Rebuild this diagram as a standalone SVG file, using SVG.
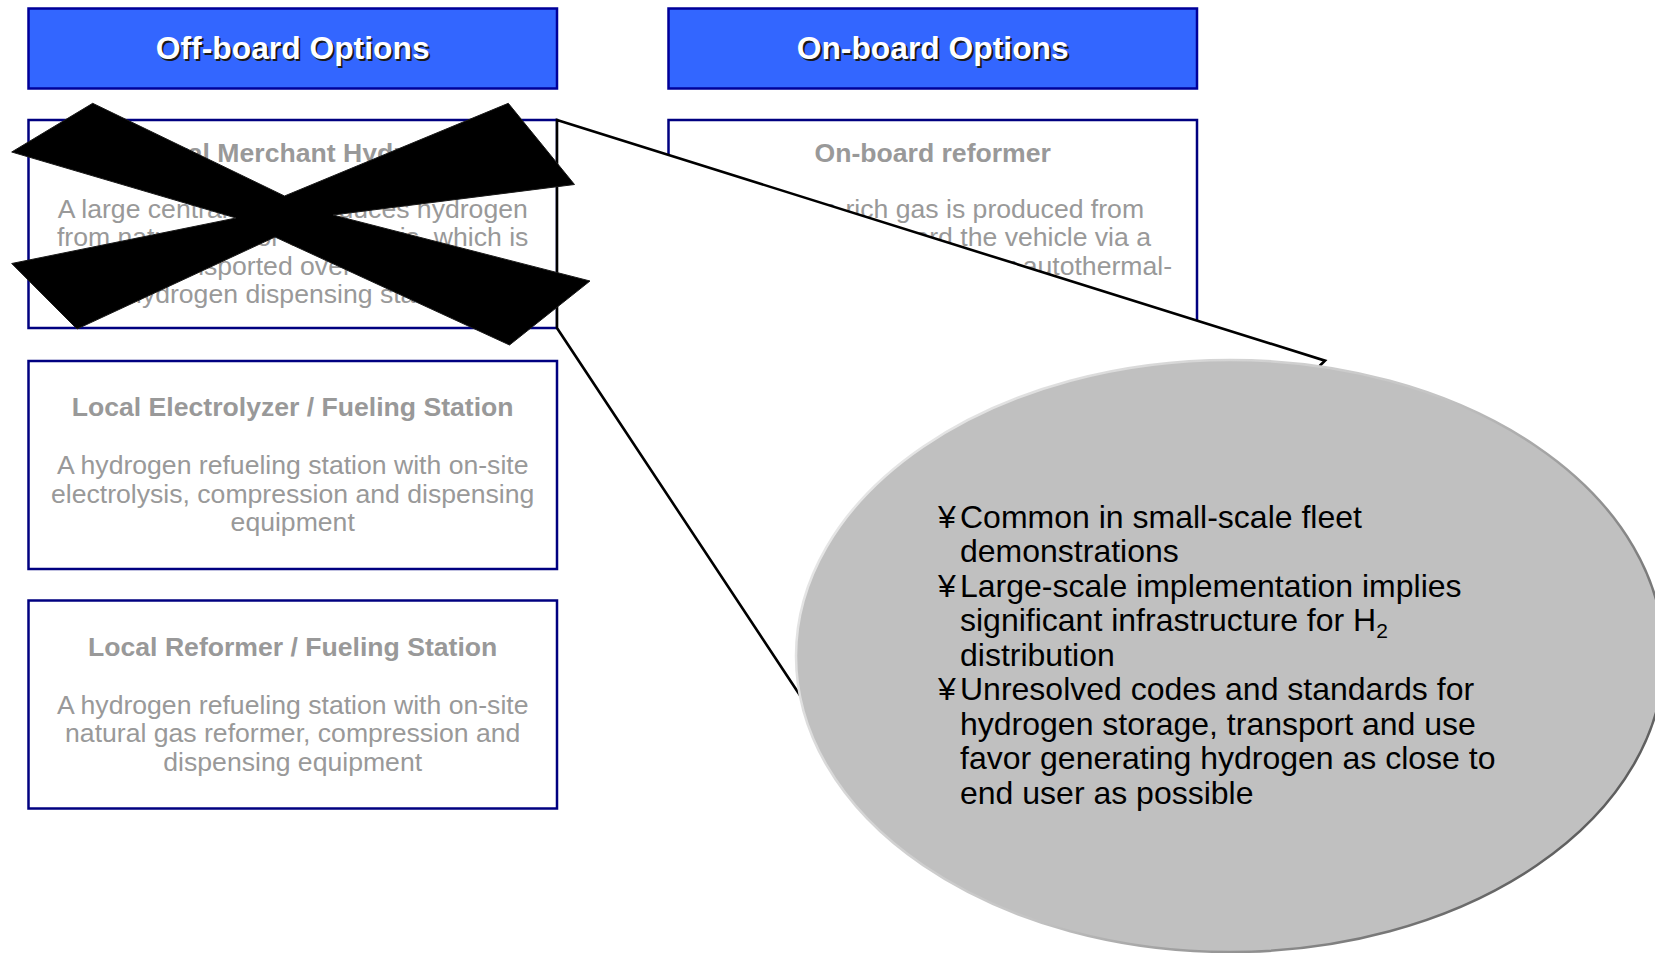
<svg xmlns="http://www.w3.org/2000/svg" width="1655" height="953" viewBox="0 0 1655 953">
<defs>
<style>
.hdr{fill:#3366ff;stroke:#000099;stroke-width:2.5}
.box{fill:#ffffff;stroke:#000080;stroke-width:2.5}
.ht{font-family:"Liberation Sans",Arial,sans-serif;font-size:31.8px;font-weight:bold;fill:#ffffff;text-anchor:middle}
.hs{font-family:"Liberation Sans",Arial,sans-serif;font-size:31.8px;font-weight:bold;fill:#1a1a1a;text-anchor:middle}
.tt{font-family:"Liberation Sans",Arial,sans-serif;font-size:26.6px;font-weight:bold;fill:#999999;text-anchor:middle}
.bt{font-family:"Liberation Sans",Arial,sans-serif;font-size:26.6px;fill:#999999;text-anchor:middle}
.et{font-family:"Liberation Sans",Arial,sans-serif;font-size:32px;fill:#000000}
.xmark{fill:#000000;stroke:#1a1a1a;stroke-width:1;stroke-linejoin:miter}
.callout{fill:#ffffff;stroke:#000000;stroke-width:2.6;stroke-linejoin:miter}
</style>
<linearGradient id="rim" gradientUnits="userSpaceOnUse" x1="900" y1="400" x2="1560" y2="920">
<stop offset="0" stop-color="#e8e8e8"/>
<stop offset="0.5" stop-color="#c4c4c4"/>
<stop offset="1" stop-color="#555555"/>
</linearGradient>
</defs>
<rect width="1655" height="953" fill="#ffffff"/>

<g id="offboard-header">
<rect class="hdr" x="28.5" y="8.5" width="528.5" height="80"/>
<text class="hs" x="294.5" y="61.3">Off-board Options</text>
<text class="ht" x="292.7" y="59.3">Off-board Options</text>
</g>

<g id="onboard-header">
<rect class="hdr" x="668.5" y="8.5" width="528.5" height="80"/>
<text class="hs" x="934.7" y="61.3">On-board Options</text>
<text class="ht" x="932.7" y="59.3">On-board Options</text>
</g>

<g id="central-merchant">
<rect class="box" x="28.5" y="120" width="528.5" height="208"/>
<text class="tt" x="292.7" y="161.5">Central Merchant Hydrogen</text>
<text class="bt" x="292.7" y="217.5">A large central plant produces hydrogen</text>
<text class="bt" x="292.7" y="246">from natural gas or electrolysis, which is</text>
<text class="bt" x="292.7" y="274.5">then transported over the road to</text>
<text class="bt" x="292.7" y="303">hydrogen dispensing station</text>
</g>

<g id="local-electrolyzer">
<rect class="box" x="28.5" y="361" width="528.5" height="208"/>
<text class="tt" x="292.7" y="416">Local Electrolyzer / Fueling Station</text>
<text class="bt" x="292.7" y="474">A hydrogen refueling station with on-site</text>
<text class="bt" x="292.7" y="502.5">electrolysis, compression and dispensing</text>
<text class="bt" x="292.7" y="531">equipment</text>
</g>

<g id="local-reformer">
<rect class="box" x="28.5" y="600.5" width="528.5" height="208"/>
<text class="tt" x="292.7" y="655.5">Local Reformer / Fueling Station</text>
<text class="bt" x="292.7" y="713.5">A hydrogen refueling station with on-site</text>
<text class="bt" x="292.7" y="742">natural gas reformer, compression and</text>
<text class="bt" x="292.7" y="770.5">dispensing equipment</text>
</g>

<g id="onboard-reformer">
<rect class="box" x="668.5" y="120" width="528.5" height="208"/>
<text class="tt" x="932.7" y="161.5">On-board reformer</text>
<text class="bt" x="932.7" y="217.5">Hydrogen-rich gas is produced from</text>
<text class="bt" x="1151" y="246" style="text-anchor:end">natural gas on-board the vehicle via a</text>
<text class="bt" x="1172" y="274.5" style="text-anchor:end">reformer, partial oxidation or autothermal-</text>
</g>

<g id="connectors">
<polygon class="callout" points="557,120 1325,360.7 1320,365.5 1230,656 815,718 557,328"/>
</g>

<g id="cross-out">
<polygon class="xmark" points="92.7,103.3 284.5,196 508.3,103.3 574.5,184.5 333,215 590,281 509.5,345 275,237 77,329 11.7,263.5 236,218 11.7,152"/>
</g>

<g id="callout-ellipse">
<ellipse cx="1230" cy="656" rx="434" ry="296" fill="#c0c0c0" stroke="url(#rim)" stroke-width="2.5"/>
<text class="et" x="938" y="527.5">¥</text>
<text class="et" x="960" y="527.5">Common in small-scale fleet</text>
<text class="et" x="960" y="562">demonstrations</text>
<text class="et" x="938" y="596.5">¥</text>
<text class="et" x="960" y="596.5">Large-scale implementation implies</text>
<text class="et" x="960" y="631">significant infrastructure for H<tspan font-size="21" dy="7">2</tspan></text>
<text class="et" x="960" y="665.5">distribution</text>
<text class="et" x="938" y="700">¥</text>
<text class="et" x="960" y="700">Unresolved codes and standards for</text>
<text class="et" x="960" y="734.5">hydrogen storage, transport and use</text>
<text class="et" x="960" y="769">favor generating hydrogen as close to</text>
<text class="et" x="960" y="803.5">end user as possible</text>
</g>
</svg>
